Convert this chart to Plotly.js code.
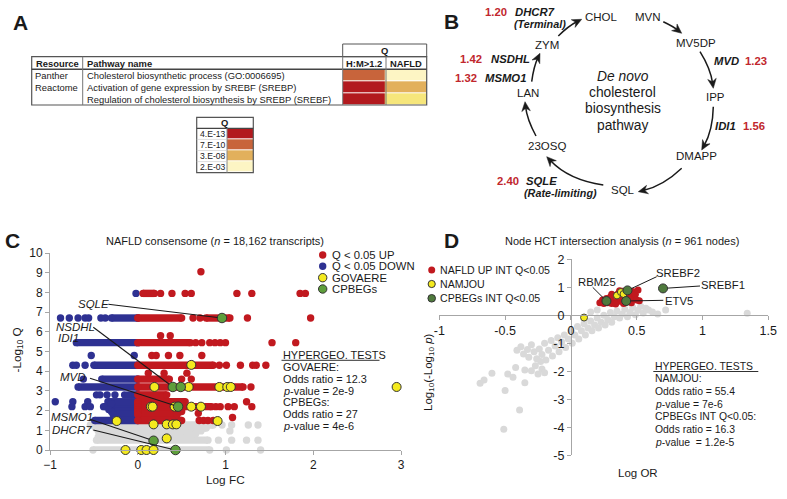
<!DOCTYPE html>
<html>
<head>
<meta charset="utf-8">
<script src="https://cdn.plot.ly/plotly-3.0.1.min.js"></script>
<style>
html,body{margin:0;padding:0;background:#fff;overflow:hidden}
#chart{width:787px;height:499px}
</style>
</head>
<body>
<div id="chart"></div>
<script>
// ================= DATA =================
// Panel A: pathway enrichment table
const tableResources = ['Panther', 'Reactome', ''];
const tablePathways = [
  'Cholesterol biosynthetic process (GO:0006695)',
  'Activation of gene expression by SREBF (SREBP)',
  'Regulation of cholesterol biosynthesis by SREBP (SREBF)'
];
const tableQHeaders = ['H:M>1.2', 'NAFLD'];
const tableQ_HM = [7e-10, 4e-13, 4e-13];
const tableQ_NAFLD = [2e-3, 3e-8, 1e-4];
const qLegendLabels = ['4.E-13', '7.E-10', '3.E-08', '2.E-03'];
const qLegendValues = [4e-13, 7e-10, 3e-8, 2e-3];

// Panel B: de novo cholesterol biosynthesis pathway
const pathwaySteps = ['CHOL', 'MVN', 'MV5DP', 'IPP', 'DMAPP', 'SQL', '23OSQ', 'LAN', 'ZYM'];
const enzymeNames = ['DHCR7', 'NSDHL', 'MSMO1', 'MVD', 'IDI1', 'SQLE'];
const enzymeFC = [1.20, 1.42, 1.32, 1.23, 1.56, 2.40];
const enzymeNotes = ['(Terminal)', '', '', '', '', '(Rate-limiting)'];

// Panel C: NAFLD consensome (-log10 Q vs log FC)
// dense runs of overlapping points: level (-log10 Q), logFC from, logFC to
const upRunLevels = [7.95, 6.7, 6.7, 5.45, 4.3, 3.6, 3.2, 2.8, 2.45, 2.35, 2.2, 2.05, 1.95, 1.8, 1.5];
const upRunFrom   = [0.06, 0.0, 0.78, 0.0, 0.0, 0.0, 0.0, 0.0, 0.0, 0.0, 0.0, 0.0, 0.0, 0.0, 0.0];
const upRunTo     = [0.19, 0.50, 1.05, 0.60, 0.86, 0.36, 1.20, 0.33, 0.54, 0.50, 0.84, 0.50, 0.50, 0.45, 0.50];
const upDotLevels = [9.05, 7.95, 6.7, 5.8, 5.45, 4.8, 4.3, 3.9, 3.6, 3.2, 2.45, 2.2, 1.86, 1.65, 1.5];
const upDotLogFC  = [[0.72], [0.26, 0.39, 0.54, 0.61, 1.13, 1.30, 1.85, 1.91], [0.63, 0.71, 1.25, 1.97],
  [0.26, 0.37], [0.66, 0.73, 0.82, 0.88, 0.94, 1.00, 1.53, 1.80], [0.16, 0.21, 0.35, 0.48, 0.73],
  [0.93, 1.01, 1.17, 1.31, 1.35, 1.46], [0.12, 0.30, 0.56], [0.50, 0.61], [1.29], [1.24],
  [0.89, 0.94, 1.03, 1.10, 1.30], [0.69], [1.08], [0.70, 0.75, 0.80, 0.86]];

const downRunLevels = [6.7, 5.45, 4.3, 3.6, 3.2, 2.8, 2.45, 2.35, 2.2, 2.05, 1.95, 1.8, 1.5];
const downRunFrom   = [-0.30, -0.70, -0.50, -0.41, -0.68, -0.08, -0.34, -0.30, -0.39, -0.33, -0.30, -0.28, -0.49];
const downRunTo     = [0, 0, 0, 0, 0, 0, 0, 0, 0, 0, 0, 0, 0];
const downDotLevels = [7.95, 6.7, 4.8, 4.3, 3.6, 2.8, 2.45, 2.2];
const downDotLogFC  = [[-0.02], [-0.88, -0.78, -0.68, -0.60, -0.56, -0.42, -0.37], [-0.53, -0.04],
  [-0.74, -0.70, -0.60], [-0.62], [-0.47, -0.43, -0.35, -0.26, -0.15, -0.11], [-0.94, -0.74, -0.57],
  [-0.75, -0.60, -0.54]];

const nsRunLevels = [1.27, 1.12, 0.97, 0.82, 0.66, 0.50, 0.0];
const nsRunFrom   = [-0.54, -0.48, -0.45, -0.42, -0.45, -0.47, -0.51];
const nsRunTo     = [0.86, 0.78, 0.62, 0.66, 0.55, 0.80, 0.82];
const nsDotLevels = [1.27, 0.97, 0.5, 0.0];
const nsDotLogFC  = [[0.96, 1.07, 1.26, 1.37], [0.72, 1.05], [0.92, 1.07, 1.24, 1.37], [1.01, 1.40]];

const govaereLogFC = [0.61, 0.19, 0.58, 0.93, 1.02, 1.06, 2.95, 0.15, 0.17, 0.42, 0.61, 0.72, -0.24, 0.91, 0.18, 0.33, 0.40, 0.44, 0.33, -0.14, 0.04, 0.10, 0.18];
const govaereQ     = [4.32, 3.2, 3.2, 3.2, 3.2, 3.2, 3.2, 2.2, 2.2, 2.2, 2.2, 2.2, 1.47, 1.47, 1.3, 1.3, 1.3, 1.3, 0.59, 0, 0, 0, 0];
const cpbegGenes = ['SQLE', 'NSDHL', 'IDI1', 'MVD', 'MSMO1', 'DHCR7'];
const cpbegLogFC = [0.96, 0.40, 0.49, 0.46, 0.18, 0.43];
const cpbegQ     = [6.7, 3.2, 3.2, 2.2, 0.47, 0];
const cTicksX = [-1, 0, 1, 2, 3];
const cTicksY = [0, 1, 2, 3, 4, 5, 6, 7, 8, 9, 10];
const cLegend = ['Q < 0.05 UP', 'Q < 0.05 DOWN', 'GOVAERE', 'CPBEGs'];
const cTests = ['HYPERGEO. TESTS', 'GOVAERE:', 'Odds ratio = 12.3', '{p}-value = 2e-9', 'CPBEGs:', 'Odds ratio = 27', '{p}-value = 4e-6'];

// Panel D: node HCT intersection analysis
const nodeLogOR = [-0.69, -0.66, -0.60, -0.51, -0.50, -0.48, -0.44, -0.42, -0.39, -0.35, -0.35, -0.30, -0.25, -0.27, -0.22, -0.20, -0.23,
  -0.41, -0.38, -0.36, -0.33, -0.32, -0.30, -0.28, -0.26, -0.24, -0.22, -0.20, -0.19, -0.17, -0.15, -0.14, -0.12, -0.10, -0.09, -0.07, -0.05, -0.04, -0.02,
  0.00, 0.01, 0.03, 0.05, 0.06, 0.08, 0.10, 0.11, 0.13, 0.15, 0.16, 0.18, 0.20, 0.21, 0.23, 0.25, 0.26, 0.28, 0.30, 0.31, 0.33, 0.35, 0.37, 0.39,
  0.41, 0.43, 0.45, 0.47, 0.49, 0.51, 0.53, 0.55, 0.57, 0.59, 0.62, 0.66, 0.72, 1.34, 0.20, 0.15];
const nodeLogP = [-2.43, -2.31, -2.07, -4.07, -2.69, -2.10, -2.21, -1.86, -3.38, -2.41, -1.95, -1.98, -2.10, -1.80, -1.92, -2.05, -1.65,
  -1.25, -1.12, -1.38, -1.22, -1.50, -1.05, -1.30, -1.55, -1.20, -1.40, -1.00, -1.60, -1.25, -0.90, -1.45, -1.10, -0.80, -1.30, -0.95, -0.70, -1.15, -0.85,
  -0.55, -1.00, -0.70, -0.40, -0.85, -0.55, -0.30, -0.70, -0.45, -0.20, -0.55, -0.35, -0.10, -0.45, -0.25, 0.00, -0.35, -0.15, 0.10, -0.25, -0.05, 0.15, -0.10, 0.05,
  0.22, -0.05, 0.10, 0.28, 0.02, 0.18, 0.32, 0.08, 0.25, 0.19, 0.12, 0.05, 0.19, 0.07, 0.19, 0.12];
const upIntLogOR = [0.22, 0.24, 0.25, 0.27, 0.28, 0.29, 0.30, 0.31, 0.32, 0.33, 0.34, 0.35, 0.36, 0.37, 0.38, 0.39, 0.40, 0.41, 0.42, 0.43, 0.44, 0.45, 0.46, 0.47, 0.48, 0.49, 0.50, 0.51, 0.52, 0.40, 0.34, 0.26, 0.46, 0.31, 0.37];
const upIntLogP  = [0.45, 0.55, 0.42, 0.60, 0.45, 0.52, 0.65, 0.42, 0.55, 0.70, 0.48, 0.60, 0.78, 0.50, 0.66, 0.86, 0.58, 0.45, 0.72, 0.62, 0.80, 0.55, 0.68, 0.85, 0.60, 0.75, 0.55, 0.90, 0.52, 0.42, 0.40, 0.50, 0.45, 0.75, 0.88];
const namjouLogOR = [0.10, 0.35, 0.38, 0.40];
const namjouLogP  = [-0.08, 0.71, 0.83, 0.76];
const cpbegIntGenes = ['RBM25', 'SREBF2', 'ETV5', 'SREBF1'];
const cpbegIntLogOR = [0.27, 0.43, 0.42, 0.70];
const cpbegIntLogP  = [0.51, 0.89, 0.51, 0.96];
const dTicksX = [-1, -0.5, 0, 0.5, 1, 1.5];
const dTicksY = [-5, -4, -3, -2, -1, 0, 1, 2];
const dLegend = ['NAFLD UP INT Q<0.05', 'NAMJOU', 'CPBEGs INT Q<0.05'];
const dTests = ['HYPERGEO. TESTS', 'NAMJOU:', 'Odds ratio = 55.4', '{p}-value = 7e-6', 'CPBEGs INT Q<0.05:', 'Odds ratio = 16.3', '{p}-value&nbsp;&nbsp;= 1.2e-5'];

// ================= STYLE / LAYOUT =================
const W = 787, H = 499;
const FONT = 'Liberation Sans, Arial, Helvetica, sans-serif';
const COL = {up:'#c1191f', down:'#2e3192', ns:'#d9d9d9', gov:'#f4ea1e', cpb:'#5e9e3b', cpbD:'#4f7a3d',
  axis:'#a6a6a6', txt:'#1a1a1a', fc:'#c1272d', edge:'#333333'};
const qColors = ['#b2191e', '#c8643b', '#e2b05c', '#fdf5c4'];
const qMidStop = {q: 1e-4, color: '#f6e67b'};
const PX = x => x / W, PY = y => 1 - y / H;

const shapes = [], annotations = [];
// inline italic with explicit size: {x} -> italic x
const ital = (s, size) => s.replace(/\{([^}]+)\}/g, '<span style="font-style:italic;font-size:' + size + 'px">$1</span>');
// f: font variant flags: 'b' bold, 'i' italic
function txt(x, y, text, size, o, color, f) {
  const font = {family: FONT, size: size, color: color || COL.txt};
  if (f && f.indexOf('b') >= 0) font.weight = 'bold';
  if (f && f.indexOf('i') >= 0) font.style = 'italic';
  annotations.push(Object.assign({x: PX(x), y: PY(y), xref: 'paper', yref: 'paper', text: ital(text, size), showarrow: false,
    xanchor: 'center', yanchor: 'middle', font: font}, o || {}));
}
function line(x0, y0, x1, y1, color, w) {
  shapes.push({type: 'line', xref: 'paper', yref: 'paper', x0: PX(x0), y0: PY(y0), x1: PX(x1), y1: PY(y1), line: {color: color, width: w}});
}
function rect(x0, y0, x1, y1, color, w) {
  shapes.push({type: 'rect', xref: 'paper', yref: 'paper', x0: PX(x0), y0: PY(y1), x1: PX(x1), y1: PY(y0), line: {color: color, width: w}, fillcolor: 'rgba(0,0,0,0)'});
}
function dot(cx, cy, r, fill, outline) {
  shapes.push({type: 'circle', xref: 'paper', yref: 'paper', x0: PX(cx - r), x1: PX(cx + r), y0: PY(cy + r), y1: PY(cy - r),
    fillcolor: fill, line: {color: outline || fill, width: outline ? 1 : 0}});
}
// leader line from a label point (tail) to a marker (head), stopping at the marker edge
function leader(tx, ty, hx, hy, r, w) {
  const d = Math.hypot(hx - tx, hy - ty);
  const ex = hx - (hx - tx) / d * r, ey = hy - (hy - ty) / d * r;
  line(tx, ty, ex, ey, '#1a1a1a', w);
}

// ---------- Panel labels ----------
[['A', 20.5, 22], ['B', 451, 21], ['C', 12.5, 240], ['D', 451.7, 240]].forEach(l =>
  txt(l[1], l[2], l[0], 21, null, null, 'b'));

// ---------- Panel A: table ----------
const nlog = q => -Math.log10(q);
const colEdges = [31.7, 82.7, 342.7, 386, 426.7];
const qTop = 44, headTop = 56.7, headBot = 69.3, rowH = 11.9;
const bodyBot = headBot + rowH * tablePathways.length;
rect(colEdges[2], qTop, colEdges[4], headTop, '#555', 1);
txt((colEdges[2] + colEdges[4]) / 2, (qTop + headTop) / 2, 'Q', 9.4, null, null, 'b');
rect(colEdges[0], headTop, colEdges[4], bodyBot, '#555', 1.2);
line(colEdges[0], headBot, colEdges[4], headBot, '#444', 1.4);
[1, 2, 3].forEach(i => line(colEdges[i], headTop, colEdges[i], bodyBot, '#777', 1));
const tf = 9.4;
txt(colEdges[0] + 2, (headTop + headBot) / 2, 'Resource', tf, {xanchor: 'left'}, null, 'b');
txt(colEdges[1] + 2, (headTop + headBot) / 2, 'Pathway name', tf, {xanchor: 'left'}, null, 'b');
tableQHeaders.forEach((h, i) => txt((colEdges[2 + i] + colEdges[3 + i]) / 2, (headTop + headBot) / 2, h, tf, null, null, 'b'));
tablePathways.forEach((p, i) => {
  const yc = headBot + rowH * (i + 0.5);
  if (tableResources[i]) txt(colEdges[0] + 1, yc, tableResources[i], tf, {xanchor: 'left'});
  txt(colEdges[1] + 2, yc, p, tf, {xanchor: 'left'});
});
// legend table
const lgL = 196.7, lgM = 227, lgR = 253.3, lgTop = 117.3, lgHead = 128.3, lgRow = 11.1;
const lgBot = lgHead + lgRow * qLegendLabels.length;
rect(lgL, lgTop, lgR, lgBot, '#555', 1.2);
line(lgL, lgHead, lgR, lgHead, '#444', 1.2);
line(lgM, lgHead, lgM, lgBot, '#888', 1);
txt((lgL + lgR) / 2, (lgTop + lgHead) / 2, 'Q', 9.4, null, null, 'b');
qLegendLabels.forEach((l, i) => {
  txt(lgL + 1, lgHead + lgRow * (i + 0.5), l, 8.6, {xanchor: 'left'});
  if (i > 0) line(lgL, lgHead + lgRow * i, lgM, lgHead + lgRow * i, '#c8c8c8', 0.6);
});
// colorscale built from legend values
const zMin = nlog(Math.max(...qLegendValues)), zMax = nlog(Math.min(...qLegendValues));
const norm = q => (nlog(q) - zMin) / (zMax - zMin);
const cscale = qLegendValues.map((q, i) => [norm(q), qColors[i]]).concat([[norm(qMidStop.q), qMidStop.color]])
  .sort((a, b) => a[0] - b[0]);

// ---------- Panel B: pathway cycle ----------
const stepPos = [[601.7, 17.3], [648.3, 16.7], [695.7, 43.3], [715.7, 97.3], [696.7, 156], [622.7, 190], [547.3, 146], [528.3, 93.3], [546.7, 45]];
pathwaySteps.forEach((s, i) => txt(stepPos[i][0], stepPos[i][1], s, 11.5));
txt(622.5, 76, 'De novo', 13.8, null, null, 'i');
['cholesterol', 'biosynthesis', 'pathway'].forEach((s, i) => txt(622.5, 76 + (i + 1) * 16.4, s, 13.8));
// [y, side, x of value edge, x of name edge]
const enzPos = [[11.7, 'L', 508.8, 512.5], [59.3, 'L', 484, 489], [77.7, 'L', 479, 483], [61, 'R', 742.5, 740.5], [125.7, 'R', 741, 737.5], [181, 'L', 520.5, 523.5]];
const notePos = [[540, 24], null, null, null, null, [560, 193.3]];
enzymeNames.forEach((e, i) => {
  const p = enzPos[i];
  const v = enzymeFC[i].toFixed(2);
  if (p[1] === 'L') {
    txt(p[2], p[0], v, 11.3, {xanchor: 'right'}, COL.fc, 'b');
    txt(p[3], p[0], e, 11.3, {xanchor: 'left'}, null, 'bi');
  } else {
    txt(p[3], p[0], e, 11.3, {xanchor: 'right'}, null, 'bi');
    txt(p[2], p[0], v, 11.3, {xanchor: 'left'}, COL.fc, 'b');
  }
  if (enzymeNotes[i]) txt(notePos[i][0], notePos[i][1], enzymeNotes[i], 10.8, null, null, 'bi');
});
// arrows along the cycle
const cycleCenter = [620, 103], cycleR = 92;
const arrowPts = [[558.3, 36, 581.7, 19.3], [663.3, 21.7, 681.7, 33.3], [700, 51.7, 713.3, 88.3], [713.3, 106.7, 701.7, 150],
  [681.7, 168.3, 638.3, 191.7], [603.3, 185, 546.7, 156.7], [536, 136, 525, 101.7], [531.7, 81.7, 540, 53.3]];
arrowPts.forEach(a => {
  const [x0, y0, x1, y1] = a;
  const mx = (x0 + x1) / 2, my = (y0 + y1) / 2;
  let dx = mx - cycleCenter[0], dy = my - cycleCenter[1];
  const dl = Math.hypot(dx, dy); dx /= dl; dy /= dl;
  const c = Math.hypot(x1 - x0, y1 - y0);
  const s = cycleR - Math.sqrt(cycleR * cycleR - c * c / 4);
  const cx = mx + dx * 2 * s, cy = my + dy * 2 * s;
  let tx = x1 - cx, ty = y1 - cy; const tl = Math.hypot(tx, ty); tx /= tl; ty /= tl;
  const nx = -ty, ny = tx;
  const ex = x1 - tx * 5, ey = y1 - ty * 5;
  shapes.push({type: 'path', xref: 'paper', yref: 'paper', fillcolor: 'rgba(0,0,0,0)',
    path: 'M' + PX(x0) + ',' + PY(y0) + ' Q' + PX(cx) + ',' + PY(cy) + ' ' + PX(ex) + ',' + PY(ey),
    line: {color: '#1a1a1a', width: 1.5}});
  const L = 9.5, HW = 4.3, N = 6.5;
  const bx = x1 - tx * L, by = y1 - ty * L;
  const pts = [[x1, y1], [bx + nx * HW, by + ny * HW], [x1 - tx * N, y1 - ty * N], [bx - nx * HW, by - ny * HW]];
  shapes.push({type: 'path', xref: 'paper', yref: 'paper', fillcolor: '#1a1a1a', line: {color: '#1a1a1a', width: 0.5},
    path: 'M' + pts.map(p => PX(p[0]) + ',' + PY(p[1])).join(' L') + ' Z'});
});

// ---------- Panel C ----------
const cDom = {x0: 50, x1: 401, y0: 450, y1: 253};
const cRangeX = [-1, 3], cRangeY = [0, 10];
const cPX = v => cDom.x0 + (v - cRangeX[0]) / (cRangeX[1] - cRangeX[0]) * (cDom.x1 - cDom.x0);
const cPY = v => cDom.y0 - (v - cRangeY[0]) / (cRangeY[1] - cRangeY[0]) * (cDom.y0 - cDom.y1);
txt(214.5, 240.7, 'NAFLD consensome ({n} = 18,162 transcripts)', 11);
txt(225.5, 480, 'Log FC', 11.8);
txt(16.5, 350, '-Log<sub>10</sub> Q', 11.8, {textangle: -90});
// legend C
const cLegStyle = [[COL.up, null, 3.7], [COL.down, null, 3.7], [COL.gov, COL.edge, 4.2], [COL.cpb, COL.edge, 4.2]];
const cLegY = [255, 266.3, 277.7, 289];
cLegend.forEach((l, i) => {
  dot(322.7, cLegY[i], cLegStyle[i][2], cLegStyle[i][0], cLegStyle[i][1]);
  txt(329.5, cLegY[i], l, 11.3, {xanchor: 'left'});
});
// tests C
cTests.forEach((t, i) => txt(280.5, 355 + i * 11.85, t, 10.9, {xanchor: 'left'}));
line(281.5, 360.3, 379.5, 360.3, '#1a1a1a', 0.9);
// gene labels C
const cLabelPos = [[93.3, 303.5, 108.3, 304.3], [75, 326.7, 93.3, 327.3], [68.3, 338.3, null, null], [73.3, 377.3, 90, 378.3], [71.7, 417.3, 90, 419.3], [71.7, 430, 93.3, 430]];
cpbegGenes.forEach((g, i) => {
  const p = cLabelPos[i];
  txt(p[0], p[1], g, 11.5, null, null, 'i');
  if (p[2] !== null) leader(p[2], p[3], cPX(cpbegLogFC[i]), cPY(cpbegQ[i]), 4.5, 1.1);
});

// ---------- Panel D ----------
const dDom = {x0: 439.3, x1: 768.3, y0: 455.3, y1: 259.3};
const dRangeX = [-1, 1.5], dRangeY = [-5, 2];
const dPX = v => dDom.x0 + (v - dRangeX[0]) / (dRangeX[1] - dRangeX[0]) * (dDom.x1 - dDom.x0);
const dPY = v => dDom.y0 - (v - dRangeY[0]) / (dRangeY[1] - dRangeY[0]) * (dDom.y0 - dDom.y1);
txt(621.7, 240.7, 'Node HCT intersection analysis ({n} = 961 nodes)', 11);
txt(638.3, 472.7, 'Log OR', 11.5);
txt(428.3, 371.7, 'Log<sub>10</sub>(-Log<sub>10</sub> {p})', 11.5, {textangle: -90});
const dLegStyle = [[COL.up, null, 3.5], [COL.gov, COL.edge, 3.6], [COL.cpbD, COL.edge, 3.8]];
const dLegY = [270, 284, 298.3];
dLegend.forEach((l, i) => {
  dot(431.7, dLegY[i], dLegStyle[i][2], dLegStyle[i][0], dLegStyle[i][1]);
  txt(438.3, dLegY[i], l, 10.6, {xanchor: 'left'});
});
dTests.forEach((t, i) => txt(652.5, 366 + i * 12.7, t, 10.4, {xanchor: 'left'}));
line(653.3, 371.5, 758.3, 371.5, '#1a1a1a', 0.9);
const dLabelPos = [[596.7, 281.7, 592.7, 287.3], [678.3, 272.7, 656.7, 276.7], [679, 301, 663.3, 300.3], [723.3, 285, 700, 286]];
cpbegIntGenes.forEach((g, i) => {
  const p = dLabelPos[i];
  txt(p[0], p[1], g, 11.3);
  leader(p[2], p[3], dPX(cpbegIntLogOR[i]), dPY(cpbegIntLogP[i]), 4.3, 1);
});

// ================= TRACES =================
function runTrace(levels, from, to, color, size) {
  const x = [], y = [];
  levels.forEach((lv, i) => { x.push(from[i], to[i], null); y.push(lv, lv, null); });
  return {type: 'scatter', mode: 'lines+markers', x: x, y: y, xaxis: 'x', yaxis: 'y', cliponaxis: false,
    line: {color: color, width: size}, marker: {color: color, size: size}, hoverinfo: 'skip', showlegend: false};
}
function dotTrace(levels, xs, color, size) {
  const x = [], y = [];
  levels.forEach((lv, i) => xs[i].forEach(v => { x.push(v); y.push(lv); }));
  return {type: 'scatter', mode: 'markers', x: x, y: y, xaxis: 'x', yaxis: 'y', cliponaxis: false,
    marker: {color: color, size: size}, hoverinfo: 'skip', showlegend: false};
}
const cs = 7.4;
const traces = [
  runTrace(nsRunLevels, nsRunFrom, nsRunTo, COL.ns, cs),
  dotTrace(nsDotLevels, nsDotLogFC, COL.ns, cs),
  runTrace(downRunLevels, downRunFrom, downRunTo, COL.down, cs),
  dotTrace(downDotLevels, downDotLogFC, COL.down, cs),
  runTrace(upRunLevels, upRunFrom, upRunTo, COL.up, cs),
  dotTrace(upDotLevels, upDotLogFC, COL.up, cs),
  {type: 'scatter', mode: 'markers', x: govaereLogFC, y: govaereQ, xaxis: 'x', yaxis: 'y', cliponaxis: false,
    marker: {color: COL.gov, size: 9, line: {color: COL.edge, width: 1}}, hoverinfo: 'skip', showlegend: false},
  {type: 'scatter', mode: 'markers', x: cpbegLogFC, y: cpbegQ, xaxis: 'x', yaxis: 'y', cliponaxis: false,
    marker: {color: COL.cpb, size: 9.5, line: {color: COL.edge, width: 1}}, hoverinfo: 'skip', showlegend: false},
  {type: 'scatter', mode: 'markers', x: nodeLogOR, y: nodeLogP, xaxis: 'x2', yaxis: 'y2', cliponaxis: false,
    marker: {color: COL.ns, size: 7}, hoverinfo: 'skip', showlegend: false},
  {type: 'scatter', mode: 'markers', x: upIntLogOR, y: upIntLogP, xaxis: 'x2', yaxis: 'y2', cliponaxis: false,
    marker: {color: COL.up, size: 7}, hoverinfo: 'skip', showlegend: false},
  {type: 'scatter', mode: 'markers', x: namjouLogOR, y: namjouLogP, xaxis: 'x2', yaxis: 'y2', cliponaxis: false,
    marker: {color: COL.gov, size: 7, line: {color: COL.edge, width: 0.9}}, hoverinfo: 'skip', showlegend: false},
  {type: 'scatter', mode: 'markers', x: cpbegIntLogOR, y: cpbegIntLogP, xaxis: 'x2', yaxis: 'y2', cliponaxis: false,
    marker: {color: COL.cpbD, size: 9, line: {color: COL.edge, width: 1}}, hoverinfo: 'skip', showlegend: false},
  {type: 'heatmap', x: [0, 1], y: [0, 1, 2], z: tablePathways.map((p, i) => [nlog(tableQ_HM[i]), nlog(tableQ_NAFLD[i])]),
    xaxis: 'x3', yaxis: 'y3', colorscale: cscale, zmin: zMin, zmax: zMax, showscale: false, ygap: 1, hoverinfo: 'skip'},
  {type: 'heatmap', x: [0], y: [0, 1, 2, 3], z: qLegendValues.map(q => [nlog(q)]),
    xaxis: 'x4', yaxis: 'y4', colorscale: cscale, zmin: zMin, zmax: zMax, showscale: false, ygap: 1, hoverinfo: 'skip'}
];

const tickFont = {family: FONT, size: 12, color: COL.txt};
const baseAxis = {showline: true, linecolor: COL.axis, linewidth: 1, ticks: 'outside', ticklen: 4, tickcolor: COL.axis,
  showgrid: false, zeroline: false, fixedrange: true, tickfont: tickFont};
const hidden = {visible: false, fixedrange: true, showgrid: false, zeroline: false};
const dZeroY = dPY(0), dZeroX = dPX(0);
const layout = {
  width: W, height: H, margin: {l: 0, r: 0, t: 0, b: 0}, paper_bgcolor: '#fff', plot_bgcolor: 'rgba(0,0,0,0)',
  showlegend: false, font: {family: FONT, color: COL.txt},
  xaxis: Object.assign({}, baseAxis, {domain: [PX(cDom.x0), PX(cDom.x1)], range: cRangeX, anchor: 'y', tickvals: cTicksX}),
  yaxis: Object.assign({}, baseAxis, {domain: [PY(cDom.y0), PY(cDom.y1)], range: cRangeY, anchor: 'x', tickvals: cTicksY}),
  xaxis2: Object.assign({}, baseAxis, {domain: [PX(dDom.x0), PX(dDom.x1)], range: dRangeX, anchor: 'free', position: PY(dZeroY),
    tickvals: dTicksX, ticktext: dTicksX.map(String), tickfont: {family: FONT, size: 12.5, color: COL.txt}}),
  yaxis2: Object.assign({}, baseAxis, {domain: [PY(dDom.y0), PY(dDom.y1)], range: dRangeY, anchor: 'free', position: PX(dZeroX),
    tickvals: dTicksY, ticktext: dTicksY.map(String), tickfont: {family: FONT, size: 12.5, color: COL.txt}}),
  xaxis3: Object.assign({}, hidden, {domain: [PX(colEdges[2]), PX(colEdges[4])], range: [-0.5, 1.5], anchor: 'y3'}),
  yaxis3: Object.assign({}, hidden, {domain: [PY(bodyBot), PY(headBot)], range: [2.5, -0.5], anchor: 'x3'}),
  xaxis4: Object.assign({}, hidden, {domain: [PX(lgM), PX(lgR)], range: [-0.5, 0.5], anchor: 'y4'}),
  yaxis4: Object.assign({}, hidden, {domain: [PY(lgBot), PY(lgHead)], range: [3.5, -0.5], anchor: 'x4'}),
  shapes: shapes, annotations: annotations
};
Plotly.newPlot('chart', traces, layout, {staticPlot: true, displayModeBar: false});
</script>
</body>
</html>
